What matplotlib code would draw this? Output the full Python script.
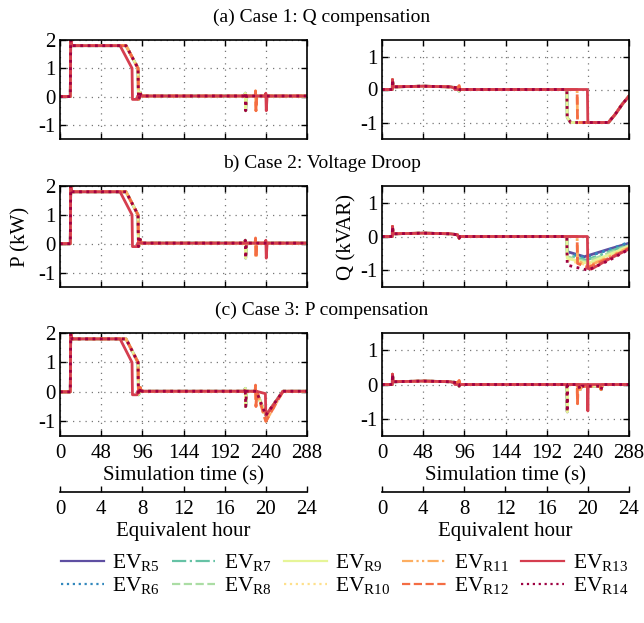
import numpy as np
import matplotlib.pyplot as plt

plt.rcParams['font.family'] = ['Liberation Serif', 'DejaVu Serif']
plt.rcParams['mathtext.fontset'] = 'custom'
plt.rcParams['mathtext.rm'] = 'Liberation Serif'
plt.rcParams['axes.unicode_minus'] = False
plt.rcParams['font.size'] = 15

# series names / styles (R5..R14)
names = ['R5', 'R6', 'R7', 'R8', 'R9', 'R10', 'R11', 'R12', 'R13', 'R14']
groups = ['A', 'A', 'A', 'A', 'A', 'A', 'B', 'B', 'C', 'A']

# ---- P, cases 1 and 2 (same shape) ----
p1_t_A = [0, 12, 12.5, 14, 77, 91, 91.5, 92.5, 93.5, 94.5, 96, 215.5, 216, 216.5, 217.5, 288]
p1_v_A = [0, 0, 2.0, 1.8, 1.8, 1.0, -0.1, -0.05, 0.15, 0.05, 0.02, 0.02, 0.12, -0.5, 0.02, 0.02]
p1_t_B = [0, 12, 12.5, 14, 77, 91, 91.5, 92.5, 93.5, 94.5, 96, 227.5, 228, 228.5, 229.5, 288]
p1_v_B = [0, 0, 2.0, 1.8, 1.8, 1.0, -0.1, -0.05, 0.15, 0.05, 0.02, 0.02, 0.2, -0.5, 0.02, 0.02]
p1_t_C = [0, 12, 12.5, 14, 70, 84, 84.5, 90, 90.5, 239.5, 240, 240.5, 241.5, 288]
p1_v_C = [0, 0, 2.0, 1.8, 1.8, 1.0, -0.1, -0.1, 0.02, 0.02, 0.12, -0.5, 0.02, 0.02]

# ---- P, case 3 ----
p3_t_A = [0, 12, 12.5, 14, 77, 91, 91.5, 92.5, 93.5, 94.5, 96, 215.5, 216, 216.5, 217.5, 229, 240, 260, 288]
p3_v_A = [0, 0, 2.0, 1.8, 1.8, 1.0, -0.1, -0.05, 0.15, 0.05, 0.02, 0.02, 0.12, -0.5, 0.02, 0.02, -0.8, 0.02, 0.02]
p3_t_B = [0, 12, 12.5, 14, 77, 91, 91.5, 92.5, 93.5, 94.5, 96, 227.5, 228, 228.5, 229.5, 240, 260, 288]
p3_v_B = [0, 0, 2.0, 1.8, 1.8, 1.0, -0.1, -0.05, 0.15, 0.05, 0.02, 0.02, 0.23, -0.5, 0.02, -1.0, 0.02, 0.02]
p3_t_C = [0, 12, 12.5, 14, 70, 84, 84.5, 90, 90.5, 229, 239.5, 240, 260, 288]
p3_v_C = [0, 0, 2.0, 1.8, 1.8, 1.0, -0.1, -0.1, 0.02, 0.02, -0.06, -0.8, 0.02, 0.02]

# ---- Q, case 1 ----
q1_t_A = [0, 12, 12.2, 13, 48, 80, 88, 90, 91, 92, 215.5, 216, 220, 264, 272, 280, 288]
q1_v_A = [0, 0, 0.3, 0.08, 0.1, 0.08, 0.05, -0.05, 0.0, 0.0, 0.0, -0.85, -1.0, -1.0, -0.75, -0.45, -0.2]
q1_t_B = [0, 12, 12.2, 13, 48, 80, 88, 90, 91, 92, 227.5, 228, 264, 272, 280, 288]
q1_v_B = [0, 0, 0.3, 0.08, 0.1, 0.08, 0.05, 0.12, 0.0, 0.0, 0.0, -1.0, -1.0, -0.75, -0.45, -0.2]
q1_t_C = [0, 12, 12.2, 13, 48, 80, 84, 85, 239.5, 240, 264, 272, 280, 288]
q1_v_C = [0, 0, 0.3, 0.08, 0.1, 0.08, 0.05, 0.0, 0.0, -1.0, -1.0, -0.75, -0.45, -0.2]

# ---- Q, case 2 (voltage droop): early part + per-series tail ----
q2_early_t = [0, 12, 12.2, 13, 48, 80, 88, 90, 91, 92]
q2_early_v = [0, 0, 0.3, 0.08, 0.1, 0.08, 0.05, -0.05, 0.0, 0.0]
q2_drop_t = [216, 216, 216, 216, 216, 216, 228, 228, 240, 216]
q2_start = [-0.45, -0.5, -0.55, -0.6, -0.65, -0.7, -0.72, -0.8, -0.95, -0.85]
q2_min_t = [236, 236, 238, 238, 240, 240, 240, 240, 244, 240]
q2_min = [-0.6, -0.62, -0.7, -0.75, -0.8, -0.85, -0.88, -0.92, -0.97, -1.0]
q2_mid = [-0.38, -0.4, -0.46, -0.5, -0.55, -0.6, -0.62, -0.65, -0.68, -0.72]
q2_end = [-0.2, -0.17, -0.24, -0.27, -0.29, -0.31, -0.33, -0.35, -0.37, -0.38]

# ---- Q, case 3 ----
q3_t_A = [0, 12, 12.2, 13, 48, 80, 88, 90, 91, 92, 215.5, 216, 216.5, 229, 231, 233, 254, 255.5, 257, 288]
q3_v_A = [0, 0, 0.3, 0.08, 0.1, 0.08, 0.05, -0.05, 0.0, 0.0, 0.0, -0.8, 0.0, 0.0, -0.15, -0.05, -0.05, -0.15, 0.0, 0.0]
q3_t_B = [0, 12, 12.2, 13, 48, 80, 88, 90, 91, 92, 227.5, 228, 228.5, 229, 231, 233, 254, 255.5, 257, 288]
q3_v_B = [0, 0, 0.3, 0.08, 0.1, 0.08, 0.05, 0.12, 0.0, 0.0, 0.0, -0.56, 0.0, 0.0, -0.15, -0.05, -0.05, -0.15, 0.0, 0.0]
q3_t_C = [0, 12, 12.2, 13, 48, 80, 84, 85, 239.5, 240, 240.5, 288]
q3_v_C = [0, 0, 0.3, 0.08, 0.1, 0.08, 0.05, 0.0, 0.0, -0.77, 0.0, 0.0]

xticks = [0, 48, 96, 144, 192, 240, 288]
hticks = [0, 4, 8, 12, 16, 20, 24]
titles = ['(a) Case 1: Q compensation', 'b) Case 2: Voltage Droop', '(c) Case 3: P compensation']

colors = ['#5e4fa2', '#3288bd', '#66c2a5', '#abdda4', '#e6f598',
          '#fee08b', '#fdae61', '#f46d43', '#d53e4f', '#9e0142']
styles = ['-', ':', '-.', '--', '-', ':', (0, (5, 1.5, 1, 1.5, 1, 1.5)), '--', '-', ':']

P = {1: {'A': (p1_t_A, p1_v_A), 'B': (p1_t_B, p1_v_B), 'C': (p1_t_C, p1_v_C)},
     3: {'A': (p3_t_A, p3_v_A), 'B': (p3_t_B, p3_v_B), 'C': (p3_t_C, p3_v_C)}}
P[2] = P[1]
Q = {1: {'A': (q1_t_A, q1_v_A), 'B': (q1_t_B, q1_v_B), 'C': (q1_t_C, q1_v_C)},
     3: {'A': (q3_t_A, q3_v_A), 'B': (q3_t_B, q3_v_B), 'C': (q3_t_C, q3_v_C)}}


def q2_series(i):
    td = q2_drop_t[i]
    t = q2_early_t + [td - 0.5, td, q2_min_t[i], 264, 288]
    v = q2_early_v + [0.0, q2_start[i], q2_min[i], q2_mid[i], q2_end[i]]
    return t, v


fig = plt.figure(figsize=(6.44, 6.23), dpi=100)
W, H = 644, 623
rows = [(40, 139), (186, 287), (333, 436)]
cols = [(60, 307), (382, 629)]

handles = []
for r, (top, bot) in enumerate(rows):
    for c, (lft, rgt) in enumerate(cols):
        ax = fig.add_axes([lft / W, 1 - bot / H, (rgt - lft) / W, (bot - top) / H])
        case = r + 1
        for i in range(10):
            g = groups[i]
            if c == 0:
                t, v = P[case][g]
            elif case == 2:
                t, v = q2_series(i)
            else:
                t, v = Q[case][g]
            ln, = ax.plot(t, v, color=colors[i], ls=styles[i], lw=2.0,
                          label=r'EV$_{\mathrm{%s}}$' % names[i])
            if r == 0 and c == 0:
                handles.append(ln)
        ax.set_xlim(0, 288)
        ax.set_xticks(xticks)
        if c == 0:
            ax.set_ylim(-1.5, 2)
            ax.set_yticks([-1, 0, 1, 2])
        else:
            ax.set_ylim(-1.5, 1.5)
            ax.set_yticks([-1, 0, 1])
        ax.grid(True, color='#777777', ls=(0, (1, 4)), lw=0.9)
        ax.tick_params(direction='in', top=True, right=True, length=4, width=1, pad=3)
        ax.tick_params(axis='x', pad=6)
        for s in ax.spines.values():
            s.set_linewidth(1.2)
        if r < 2:
            ax.set_xticklabels([])
        else:
            ax.set_xlabel('Simulation time (s)', labelpad=2)
            sec = ax.secondary_xaxis(-0.54, functions=(lambda s: s / 12, lambda h: h * 12))
            sec.set_xticks(hticks)
            sec.tick_params(direction='in', length=4, width=1, pad=6)
            sec.spines['bottom'].set_linewidth(1.2)
            sec.set_xlabel('Equivalent hour', labelpad=2)
        if r == 1:
            ax.set_ylabel('P (kW)' if c == 0 else 'Q (kVAR)', labelpad=6 if c == 0 else 3)
    fig.text(0.5, 1 - (top - 23) / H, titles[r], ha='center', va='center', fontsize=14)

leg = fig.legend(handles=handles, loc='center', ncol=5, bbox_to_anchor=(0.535, 1 - 575 / H),
                 frameon=False, fontsize=15.5, handlelength=2.0, columnspacing=0.55,
                 handletextpad=0.4, labelspacing=0.05)
for h in leg.get_lines():
    h.set_linewidth(1.6)

fig.savefig('out.png', dpi=100)
